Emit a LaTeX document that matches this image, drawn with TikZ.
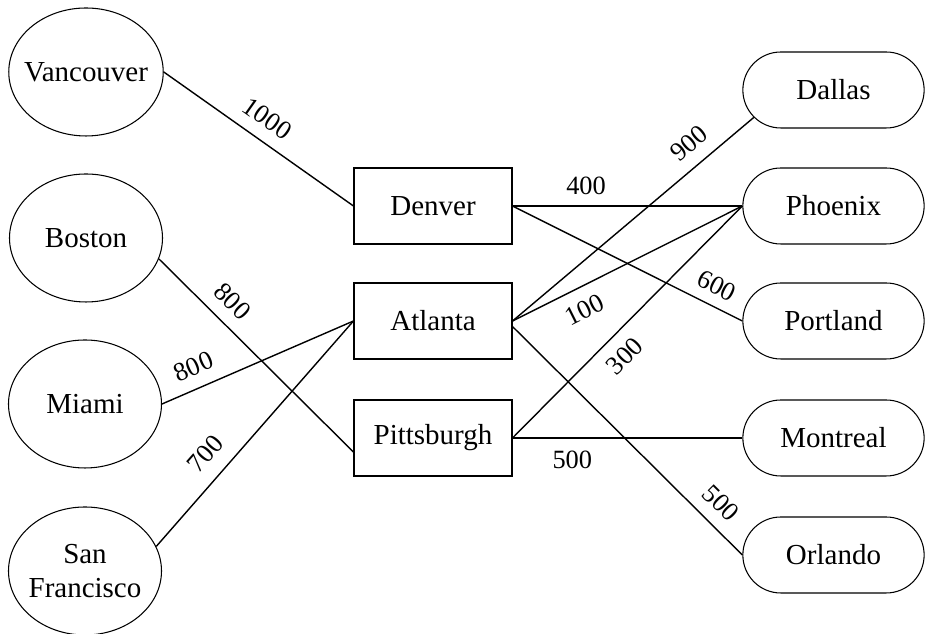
\documentclass[tikz,border=0pt]{standalone}
\usepackage{fontspec}
\setmainfont{Liberation Serif}
\usetikzlibrary{shapes.geometric, shapes.misc}

\begin{document}
\begin{tikzpicture}[
  every node/.style={font=\fontsize{16.5}{19}\selectfont, align=center},
  src/.style={draw, ellipse, semithick, minimum width=3.06cm, minimum height=2.56cm,
              inner xsep=-4.2pt, inner ysep=0pt},
  hub/.style={draw, rectangle, semithick, minimum width=3.16cm, minimum height=1.52cm},
  dst/.style={draw, rounded rectangle, semithick, minimum width=3.86cm, minimum height=1.52cm},
  road/.style={thick},
  cost/.style={sloped, inner sep=1pt, font=\fontsize{15}{17}\selectfont}
]
  \useasboundingbox (0,0) rectangle (18.72,12.68);

  % --- Origins (left) ---
  \node[src] (van) at (1.72, 11.24) {Vancouver};
  \node[src] (bos) at (1.72, 7.92)  {Boston};
  \node[src] (mia) at (1.70, 4.60)  {Miami};
  \node[src] (sfo) at (1.70, 1.26)  {San\\Francisco};

  % --- Hubs (middle) ---
  \node[hub] (den) at (8.66, 8.56) {Denver};
  \node[hub] (atl) at (8.66, 6.26) {Atlanta};
  \node[hub] (pit) at (8.66, 3.92) {Pittsburgh};

  % --- Destinations (right) ---
  \node[dst] (dal) at (16.67, 10.88) {Dallas};
  \node[dst] (phx) at (16.67, 8.56)  {Phoenix};
  \node[dst] (por) at (16.67, 6.26)  {Portland};
  \node[dst] (mtl) at (16.67, 3.92)  {Montreal};
  \node[dst] (orl) at (16.67, 1.58)  {Orlando};

  % --- Origins -> hubs ---
  \draw[road] (van.east) -- node[cost, above=6pt, pos=0.48] {1000} (den.west);
  \draw[road] (bos.-16)  -- node[cost, above=6pt, pos=0.3] {800} (pit.190);
  \draw[road] (mia.east) -- node[cost, above=6pt, pos=0.21] {800} (atl.west);
  \draw[road] (sfo.19)   -- node[cost, above=7pt, pos=0.34] {700} (atl.west);

  % --- Hubs -> destinations ---
  \draw[road] (den.east) -- node[cost, above=5pt, pos=0.32] {400} (phx.west);
  \draw[road] (den.east) -- node[cost, above=5pt, pos=0.85] {600} (por.west);
  \draw[road] (atl.east) -- node[cost, above=6pt, pos=0.79] {900} (dal.199);
  \draw[road] (atl.east) -- node[cost, below=6pt, pos=0.27] {100} (phx.west);
  \draw[road] (atl.-4)   -- node[cost, above=6pt, pos=0.84] {500} (orl.west);
  \draw[road] (pit.east) -- node[cost, below=6pt, pos=0.42] {300} (phx.west);
  \draw[road] (pit.east) -- node[cost, below=6pt, pos=0.26] {500} (mtl.west);

\end{tikzpicture}
\end{document}
